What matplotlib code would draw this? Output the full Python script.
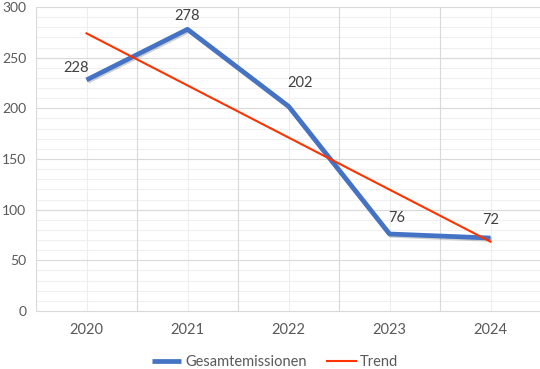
import numpy as np
import matplotlib
matplotlib.use("Agg")
import matplotlib.pyplot as plt
import matplotlib.patheffects as pe

years = ["2020", "2021", "2022", "2023", "2024"]
emissions = [228, 278, 202, 76, 72]
series_name = "Gesamtemissionen"
trend_name = "Trend"
y_ticks = [0, 50, 100, 150, 200, 250, 300]

plt.rcParams['font.family'] = ['Lato', 'DejaVu Sans']

x = np.arange(len(years))
coef = np.polyfit(x, emissions, 1)
trend = np.polyval(coef, x)

fig = plt.figure(figsize=(5.4, 3.69), dpi=100)
ax = fig.add_axes([36/540, 58/369, 505/540, 304/369])

blue = "#4472C4"
red = "#FF3300"

ax.plot(x, emissions, color=blue, lw=3.4, solid_joinstyle='round', solid_capstyle='butt',
        zorder=4, label=series_name,
        path_effects=[pe.SimpleLineShadow(offset=(1.0, -1.0), alpha=0.18, shadow_color='#000000'), pe.Normal()])
ax.plot(x, trend, color=red, lw=1.5, zorder=5, label=trend_name)

# data labels (pixel offsets)
offsets = [(-10, 12), (0, 13), (12, 23), (7, 16), (0, 18)]
for xi, yi, (dx, dy) in zip(x, emissions, offsets):
    ax.annotate(str(yi), (xi, yi), xytext=(dx, dy), textcoords='offset pixels',
                ha='center', va='center', fontsize=10.5, color='#404040', zorder=6)

ax.set_xlim(-0.5, len(years) - 0.5)
ax.set_ylim(0, 300)
ax.set_yticks(y_ticks)
ax.set_xticks(x)
ax.set_xticklabels(years)

ax.grid(False)
for yv in np.arange(10, 300, 10):
    if yv % 50 != 0:
        ax.axhline(yv, color='#F0F0F0', lw=0.8, zorder=1)
for yv in y_ticks[1:]:
    ax.axhline(yv, color='#D9D9D9', lw=0.8, zorder=2)
for xv in x:
    ax.axvline(xv, color='#EDEDED', lw=0.8, zorder=1)
for xv in np.arange(-0.5, len(years), 1.0):
    ax.axvline(xv, color='#D9D9D9', lw=0.8, zorder=2)

for s in ['top', 'right', 'left']:
    ax.spines[s].set_visible(False)
ax.spines['bottom'].set_color('#D9D9D9')
ax.spines['bottom'].set_linewidth(0.8)

ax.tick_params(axis='both', which='both', length=0, colors='#595959', labelsize=10.5)
ax.tick_params(axis='y', pad=7, labelsize=10)
ax.tick_params(axis='x', pad=9)

leg = fig.legend(loc='center', bbox_to_anchor=(275/540, 1 - 362/369), ncol=2, frameon=False,
                 fontsize=10.5, handlelength=2.0, handletextpad=0.25, columnspacing=1.4)
for t in leg.get_texts():
    t.set_color('#595959')
leg.get_lines()[0].set_linewidth(3.4)
leg.get_lines()[0].set_path_effects([])

fig.savefig("out.png", dpi=100)
